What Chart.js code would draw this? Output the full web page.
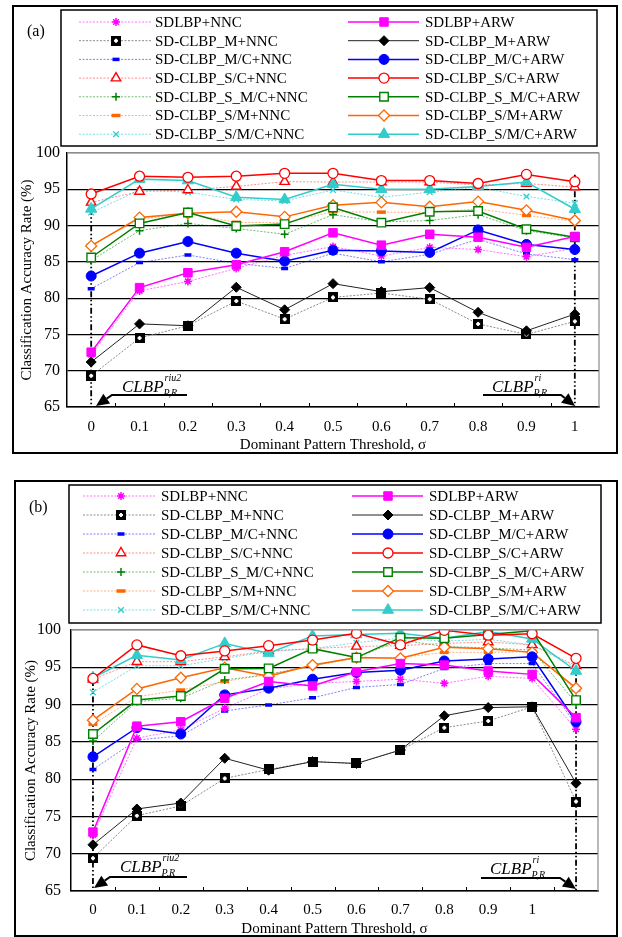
<!DOCTYPE html>
<html>
<head>
<meta charset="utf-8">
<script src="https://cdn.jsdelivr.net/npm/chart.js@4.4.1/dist/chart.umd.min.js"></script>
<style>
    html, body { margin: 0; padding: 0; background: #fff; }
    .panel { position: absolute; left: 0; width: 622px; }
    #wrapA { top: 0; height: 468px; }
    #wrapB { top: 468px; height: 469px; }
</style>
</head>
<body>
<div class="panel" id="wrapA"><canvas id="chartA"></canvas></div>
<div class="panel" id="wrapB"><canvas id="chartB"></canvas></div>
<script>
(function () {
    'use strict';

    var FONT = "'Liberation Serif', 'Times New Roman', serif";

    // ---- data -------------------------------------------------------------
    var xLabelsA = ['0', '0.1', '0.2', '0.3', '0.4', '0.5', '0.6', '0.7', '0.8', '0.9', '1'];
    var xLabelsB = ['0', '0.1', '0.2', '0.3', '0.4', '0.5', '0.6', '0.7', '0.8', '0.9', '1', ''];
    var yTicks = [65, 70, 75, 80, 85, 90, 95, 100];

    var seriesNames = [
        'SDLBP+NNC', 'SD-CLBP_M+NNC', 'SD-CLBP_M/C+NNC', 'SD-CLBP_S/C+NNC',
        'SD-CLBP_S_M/C+NNC', 'SD-CLBP_S/M+NNC', 'SD-CLBP_S/M/C+NNC',
        'SDLBP+ARW', 'SD-CLBP_M+ARW', 'SD-CLBP_M/C+ARW', 'SD-CLBP_S/C+ARW',
        'SD-CLBP_S_M/C+ARW', 'SD-CLBP_S/M+ARW', 'SD-CLBP_S/M/C+ARW'
    ];

    // panel (a)
    var aSdlbpNnc = [72.2, 81.0, 82.3, 84.1, 85.9, 87.1, 85.8, 87.0, 86.7, 85.7, 86.9];
    var aMNnc     = [69.3, 74.5, 76.2, 79.6, 77.1, 80.1, 80.7, 79.85, 76.45, 75.0, 76.8];
    var aMcNnc    = [81.3, 84.9, 85.95, 84.8, 84.1, 86.2, 85.0, 86.05, 88.1, 86.1, 85.3];
    var aScNnc    = [93.2, 94.7, 94.9, 95.4, 96.05, 96.0, 96.0, 96.0, 95.6, 95.8, 95.3];
    var aS_McNnc  = [85.2, 89.3, 90.3, 89.6, 88.8, 91.5, 90.5, 90.7, 91.5, 89.3, 88.3];
    var aSmNnc    = [87.3, 90.9, 91.6, 90.45, 90.4, 91.9, 91.85, 91.8, 92.3, 91.4, 90.6];
    var aSmcNnc   = [91.8, 94.9, 94.6, 93.6, 93.4, 94.9, 93.9, 94.6, 95.3, 94.0, 93.1];
    var aSdlbpArw = [72.55, 81.45, 83.5, 84.6, 86.4, 89.0, 87.3, 88.8, 88.4, 87.0, 88.5];
    var aMArw     = [71.2, 76.45, 76.2, 81.5, 78.4, 82.0, 80.9, 81.45, 78.05, 75.5, 77.8];
    var aMcArw    = [83.05, 86.2, 87.8, 86.2, 85.1, 86.6, 86.5, 86.3, 89.4, 87.4, 86.7];
    var aScArw    = [94.35, 96.8, 96.65, 96.8, 97.2, 97.2, 96.2, 96.2, 95.8, 97.05, 96.05];
    var aS_McArw  = [85.6, 90.3, 91.8, 89.95, 90.2, 92.5, 90.4, 91.9, 92.0, 89.5, 88.4];
    var aSmArw    = [87.2, 91.1, 91.7, 91.9, 91.2, 92.8, 93.2, 92.6, 93.3, 92.1, 90.7];
    var aSmcArw   = [92.3, 96.4, 96.2, 93.9, 93.6, 95.7, 95.0, 95.0, 95.4, 96.0, 92.25];

    // panel (b)
    var bSdlbpNnc = [72.5, 85.5, 86.6, 89.5, 92.1, 92.85, 93.1, 93.4, 92.85, 93.8, 93.5, 86.7];
    var bMNnc     = [69.4, 75.1, 76.4, 80.1, 81.3, 82.35, 82.1, 83.9, 86.9, 87.8, 89.7, 77.0];
    var bMcNnc    = [81.3, 85.25, 85.8, 89.15, 89.95, 90.9, 92.3, 92.7, 94.85, 95.5, 95.5, 87.3];
    var bScNnc    = [93.4, 95.75, 95.75, 96.4, 97.2, 97.5, 97.8, 97.9, 98.2, 98.4, 98.0, 95.2];
    var bS_McNnc  = [85.1, 90.4, 90.85, 93.3, 94.05, 95.2, 96.3, 98.65, 97.8, 97.6, 97.3, 90.2];
    var bSmNnc    = [87.35, 91.05, 91.95, 93.1, 94.05, 95.2, 96.2, 96.3, 97.0, 97.0, 97.1, 91.95];
    var bSmcNnc   = [91.65, 95.2, 95.2, 96.2, 97.1, 97.5, 98.3, 98.9, 98.5, 98.75, 98.0, 95.0];
    var bSdlbpArw = [72.9, 87.1, 87.7, 90.85, 93.1, 92.5, 94.4, 95.5, 95.3, 94.5, 94.05, 88.25];
    var bMArw     = [71.2, 76.0, 76.8, 82.8, 81.2, 82.35, 82.1, 83.9, 88.5, 89.6, 89.7, 79.45];
    var bMcArw    = [83.0, 86.9, 86.05, 91.3, 92.2, 93.4, 94.3, 94.6, 95.85, 96.1, 96.4, 87.7];
    var bScArw    = [93.5, 98.0, 96.55, 97.2, 97.9, 98.65, 99.55, 98.0, 99.95, 99.3, 99.5, 96.2];
    var bS_McArw  = [86.05, 90.6, 91.15, 94.8, 94.85, 97.5, 96.3, 98.97, 98.9, 99.4, 99.9, 90.6];
    var bSmArw    = [87.9, 92.1, 93.6, 94.95, 93.8, 95.3, 96.3, 96.2, 97.7, 97.5, 97.0, 92.2];
    var bSmcArw   = [93.6, 96.6, 95.98, 98.2, 96.9, 99.2, 99.4, 99.55, 98.9, 99.8, 98.8, 94.5];

    // top of the dash-dot drop lines (value) at first / last category
    var dropTopA = [94.6, 97.0];
    var dropTopB = [93.3, 95.75];

    // ---- styles -----------------------------------------------------------
    function boxPlusMarker() {
        var c = document.createElement('canvas');
        c.width = 10; c.height = 10;
        var g = c.getContext('2d');
        g.fillStyle = '#000';
        g.fillRect(0, 0, 10, 10);
        g.fillStyle = '#fff';
        g.fillRect(4, 3, 2, 4);
        g.fillRect(3, 4, 4, 2);
        return c;
    }

    var DOT = [2, 1.5];
    var STYLES = [
        { line: 'rgba(255,0,255,0.55)', w: 1, dash: DOT, pt: 'star', r: 4, pc: '#FF00FF', pf: '#FF00FF', pw: 1.5 },
        { line: '#8a8a8a', w: 1, dash: DOT, pt: boxPlusMarker(), r: 5, pc: '#000', pf: '#000', pw: 1 },
        { line: 'rgba(0,0,255,0.5)', w: 1, dash: DOT, pt: 'line', r: 3.5, pc: '#0000FF', pf: '#0000FF', pw: 3.5 },
        { line: 'rgba(255,0,0,0.45)', w: 1, dash: DOT, pt: 'triangle', r: 5.5, pc: '#FF0000', pf: '#fff', pw: 1.4 },
        { line: 'rgba(0,128,0,0.55)', w: 1, dash: DOT, pt: 'cross', r: 4, pc: '#008000', pf: '#008000', pw: 1.5 },
        { line: 'rgba(255,102,0,0.5)', w: 1, dash: DOT, pt: 'line', r: 4.5, pc: '#FF6600', pf: '#FF6600', pw: 3.5 },
        { line: 'rgba(51,204,204,0.65)', w: 1, dash: DOT, pt: 'crossRot', r: 4, pc: '#33CCCC', pf: '#33CCCC', pw: 1.3 },
        { line: '#FF00FF', w: 1.5, dash: [], pt: 'rect', r: 6, pc: '#FF00FF', pf: '#FF00FF', pw: 1 },
        { line: '#222', w: 1, dash: [], pt: 'rectRot', r: 5, pc: '#000', pf: '#000', pw: 1 },
        { line: '#0000FF', w: 1.5, dash: [], pt: 'circle', r: 5, pc: '#0000FF', pf: '#0000FF', pw: 1 },
        { line: '#FF0000', w: 1.5, dash: [], pt: 'circle', r: 5, pc: '#FF0000', pf: '#fff', pw: 1.3 },
        { line: '#008000', w: 1.5, dash: [], pt: 'rect', r: 6, pc: '#008000', pf: '#fff', pw: 1.4 },
        { line: '#FF6600', w: 1.5, dash: [], pt: 'rectRot', r: 5.5, pc: '#FF6600', pf: '#fff', pw: 1.3 },
        { line: '#33CCCC', w: 1.5, dash: [], pt: 'triangle', r: 6.5, pc: '#33CCCC', pf: '#33CCCC', pw: 1 }
    ];

    // ---- drawing helpers --------------------------------------------------
    function marker(ctx, st, x, y) {
        ctx.save();
        ctx.setLineDash([]);
        ctx.fillStyle = st.pf;
        ctx.strokeStyle = st.pc;
        ctx.lineWidth = st.pw;
        Chart.helpers.drawPoint(ctx, { pointStyle: st.pt, radius: st.r, borderWidth: st.pw, rotation: 0 }, x, y);
        ctx.restore();
    }

    function arrow(ctx, p0, p1, tip) {
        var dx = tip[0] - p1[0], dy = tip[1] - p1[1];
        var len = Math.sqrt(dx * dx + dy * dy);
        var ux = dx / len, uy = dy / len;
        var head = 13, half = 6;
        var bx = tip[0] - ux * head, by = tip[1] - uy * head;
        ctx.save();
        ctx.setLineDash([]);
        ctx.strokeStyle = '#000';
        ctx.fillStyle = '#000';
        ctx.lineWidth = 2;
        ctx.beginPath();
        ctx.moveTo(p0[0], p0[1]);
        ctx.lineTo(p1[0], p1[1]);
        ctx.lineTo(bx, by);
        ctx.stroke();
        ctx.beginPath();
        ctx.moveTo(tip[0], tip[1]);
        ctx.lineTo(bx - uy * half, by + ux * half);
        ctx.lineTo(bx + uy * half, by - ux * half);
        ctx.closePath();
        ctx.fill();
        ctx.restore();
    }

    function clbpLabel(ctx, x, base, sup) {
        ctx.save();
        ctx.fillStyle = '#000';
        ctx.textAlign = 'left';
        ctx.textBaseline = 'alphabetic';
        ctx.font = 'italic 17px ' + FONT;
        ctx.fillText('CLBP', x, base);
        var w = ctx.measureText('CLBP').width;
        ctx.font = 'italic 10px ' + FONT;
        ctx.fillText(sup, x + w + 1, base - 11);
        ctx.fillText('P,R', x + w, base + 4);
        ctx.restore();
    }

    function decoPlugin(L) {
        return {
            id: 'panelDeco',
            beforeDatasetsDraw: function (chart) {
                var ctx = chart.ctx, ca = chart.chartArea;
                var xs = chart.scales.x, ys = chart.scales.y;
                ctx.save();
                ctx.strokeStyle = '#000';
                ctx.lineWidth = 1.8;
                ctx.setLineDash([6, 2.5, 1.5, 2.5, 1.5, 2.5]);
                L.dropIdx.forEach(function (idx, k) {
                    var x = xs.getPixelForValue(idx);
                    ctx.beginPath();
                    ctx.moveTo(x, ys.getPixelForValue(L.dropTop[k]));
                    ctx.lineTo(x, ca.bottom);
                    ctx.stroke();
                });
                ctx.restore();
            },
            afterDraw: function (chart) {
                var ctx = chart.ctx, ca = chart.chartArea;
                var xs = chart.scales.x;
                ctx.save();

                // top / right border of the plot
                ctx.strokeStyle = '#8c8c8c';
                ctx.lineWidth = 1.2;
                ctx.beginPath();
                ctx.moveTo(ca.left, ca.top);
                ctx.lineTo(ca.right, ca.top);
                ctx.lineTo(ca.right, ca.bottom);
                ctx.stroke();

                // inward tick marks at category boundaries
                ctx.strokeStyle = '#000';
                ctx.lineWidth = 1;
                var n = chart.data.labels.length;
                for (var i = 1; i < n; i++) {
                    var bx = (xs.getPixelForValue(i - 1) + xs.getPixelForValue(i)) / 2;
                    ctx.beginPath();
                    ctx.moveTo(Math.round(bx) + 0.5, ca.bottom);
                    ctx.lineTo(Math.round(bx) + 0.5, ca.bottom - 4);
                    ctx.stroke();
                }

                // annotations
                clbpLabel(ctx, L.annL.text[0], L.annL.text[1], 'riu2');
                arrow(ctx, L.annL.p0, L.annL.p1, L.annL.tip);
                clbpLabel(ctx, L.annR.text[0], L.annR.text[1], 'ri');
                arrow(ctx, L.annR.p0, L.annR.p1, L.annR.tip);

                // axis titles
                ctx.fillStyle = '#000';
                ctx.font = '15px ' + FONT;
                ctx.textAlign = 'center';
                ctx.textBaseline = 'middle';
                ctx.fillText('Dominant Pattern Threshold, \u03c3', (ca.left + ca.right) / 2, L.xTitleY);
                ctx.save();
                ctx.translate(L.yTitleX, (ca.top + ca.bottom) / 2);
                ctx.rotate(-Math.PI / 2);
                ctx.fillText('Classification Accuracy Rate (%)', 0, 0);
                ctx.restore();

                // legend
                var lb = L.legendBox;
                ctx.strokeStyle = '#000';
                ctx.lineWidth = 1.5;
                ctx.strokeRect(lb[0], lb[1], lb[2] - lb[0], lb[3] - lb[1]);
                ctx.font = '15px ' + FONT;
                ctx.textAlign = 'left';
                ctx.textBaseline = 'middle';
                seriesNames.forEach(function (name, k) {
                    var col = k < 7 ? L.colL : L.colR;
                    var y = L.row0 + (k % 7) * L.rowH;
                    var st = STYLES[k];
                    ctx.save();
                    ctx.strokeStyle = st.line;
                    ctx.lineWidth = st.w;
                    ctx.setLineDash(st.dash);
                    ctx.beginPath();
                    ctx.moveTo(col.line[0], y);
                    ctx.lineTo(col.line[1], y);
                    ctx.stroke();
                    ctx.restore();
                    marker(ctx, st, col.mark, y);
                    ctx.fillStyle = '#000';
                    ctx.fillText(name, col.text, y + 1);
                });

                // frame and panel label
                var f = L.frame;
                ctx.strokeStyle = '#000';
                ctx.lineWidth = 2;
                ctx.setLineDash([]);
                ctx.strokeRect(f[0], f[1], f[2] - f[0], f[3] - f[1]);
                ctx.font = '16px ' + FONT;
                ctx.textAlign = 'left';
                ctx.fillText(L.label, L.labelPos[0], L.labelPos[1]);

                ctx.restore();
            }
        };
    }

    // ---- chart factory ----------------------------------------------------
    function makeChart(id, labels, data, L) {
        var datasets = data.map(function (values, k) {
            var st = STYLES[k];
            return {
                label: seriesNames[k],
                data: values,
                borderColor: st.line,
                borderWidth: st.w,
                borderDash: st.dash,
                pointStyle: st.pt,
                pointRadius: st.r,
                pointBorderColor: st.pc,
                pointBackgroundColor: st.pf,
                pointBorderWidth: st.pw,
                fill: false,
                tension: 0,
                order: k < 7 ? 2 : 1
            };
        });

        var tickFont = { family: FONT, size: 15 };

        return new Chart(document.getElementById(id), {
            type: 'line',
            data: { labels: labels, datasets: datasets },
            options: {
                responsive: true,
                maintainAspectRatio: false,
                animation: false,
                layout: { padding: { top: L.area.top, right: 622 - L.area.right, left: 0, bottom: 0 } },
                plugins: { legend: { display: false }, tooltip: { enabled: false } },
                scales: {
                    x: {
                        type: 'category',
                        offset: true,
                        grid: { display: false, drawTicks: false },
                        border: { color: '#000', width: 1.5 },
                        ticks: { font: tickFont, color: '#000', padding: L.xPad, autoSkip: false, maxRotation: 0 },
                        afterFit: function (s) { s.height = L.canvasH - L.area.bottom; }
                    },
                    y: {
                        min: yTicks[0],
                        max: yTicks[yTicks.length - 1],
                        afterBuildTicks: function (s) {
                            s.ticks = yTicks.map(function (v) { return { value: v }; });
                        },
                        grid: {
                            drawTicks: false,
                            lineWidth: 1.2,
                            color: function (c) {
                                return c.tick && c.tick.value === 100 ? '#8c8c8c' : '#000';
                            }
                        },
                        border: { color: '#000', width: 1.5 },
                        ticks: { font: { family: FONT, size: 16 }, color: '#000', padding: L.yPad },
                        afterFit: function (s) { s.width = L.area.left; }
                    }
                }
            },
            plugins: [decoPlugin(L)]
        });
    }

    var layoutA = {
        canvasH: 468,
        area: { left: 67, top: 153, right: 599, bottom: 407 },
        xPad: 11, yPad: 7,
        frame: [13, 6, 617, 453],
        label: '(a)', labelPos: [27, 32],
        legendBox: [61, 10, 597, 146],
        row0: 22, rowH: 18.7,
        colL: { line: [79, 151], mark: 116, text: 155 },
        colR: { line: [348, 419], mark: 384, text: 425 },
        xTitleY: 445, yTitleX: 27,
        dropIdx: [0, 10], dropTop: dropTopA,
        annL: { text: [122, 392], p0: [187, 395], p1: [112, 395], tip: [96, 406] },
        annR: { text: [492, 392], p0: [483, 395], p1: [561, 395], tip: [575, 406] }
    };

    var layoutB = {
        canvasH: 469,
        area: { left: 71, top: 162, right: 598, bottom: 423 },
        xPad: 10, yPad: 10,
        frame: [15, 13, 617, 468],
        label: '(b)', labelPos: [29, 40],
        legendBox: [69, 17, 601, 155],
        row0: 28, rowH: 19,
        colL: { line: [83, 156], mark: 121, text: 161 },
        colR: { line: [352, 423], mark: 388, text: 429 },
        xTitleY: 461, yTitleX: 31,
        dropIdx: [0, 11], dropTop: dropTopB,
        annL: { text: [120, 404], p0: [187, 409], p1: [110, 409], tip: [94, 420] },
        annR: { text: [490, 406], p0: [481, 410], p1: [560, 410], tip: [576, 421] }
    };

    makeChart('chartA', xLabelsA, [
        aSdlbpNnc, aMNnc, aMcNnc, aScNnc, aS_McNnc, aSmNnc, aSmcNnc,
        aSdlbpArw, aMArw, aMcArw, aScArw, aS_McArw, aSmArw, aSmcArw
    ], layoutA);

    makeChart('chartB', xLabelsB, [
        bSdlbpNnc, bMNnc, bMcNnc, bScNnc, bS_McNnc, bSmNnc, bSmcNnc,
        bSdlbpArw, bMArw, bMcArw, bScArw, bS_McArw, bSmArw, bSmcArw
    ], layoutB);
})();
</script>
</body>
</html>
